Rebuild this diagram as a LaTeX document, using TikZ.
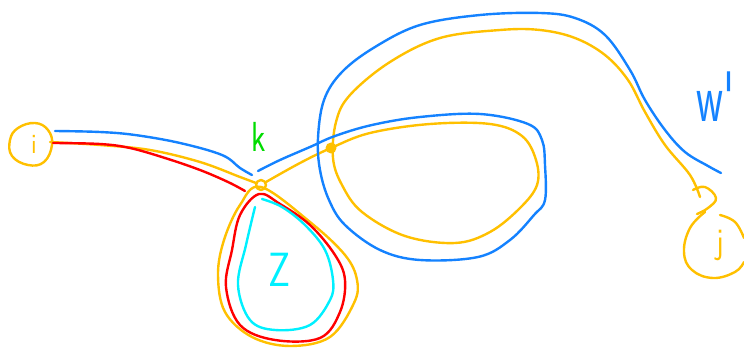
\documentclass[tikz,border=0pt]{standalone}
\definecolor{gold}{RGB}{255,192,0}
\definecolor{skyb}{RGB}{20,130,255}
\definecolor{redl}{RGB}{255,0,0}
\definecolor{cyanl}{RGB}{0,240,255}
\definecolor{greenl}{RGB}{0,220,0}
\begin{document}
\begin{tikzpicture}[x=1pt,y=-1pt,
  stroke/.style={line width=2.4pt, line cap=round, line join=round},
  lbl/.style={inner sep=0pt}]
\useasboundingbox (0,0) rectangle (744,350);
% vertex circles
\draw[stroke, gold] plot[smooth cycle, tension=0.7] coordinates {(18,128) (35,123) (48,130) (52,145) (44,162) (28,165) (12,156) (10,140)};
\node[lbl, text=gold, font=\sffamily\fontsize{28}{28}\selectfont, xscale=0.9] (i) at (34,144) {i};
\draw[stroke, gold] plot[smooth, tension=0.7] coordinates {(720,215) (735,222) (744,238)};
\draw[stroke, gold] plot[smooth, tension=0.7] coordinates {(705,212) (690,228) (684,252) (692,270) (713,278) (735,272) (744,262)};
\node[lbl, text=gold, font=\sffamily\fontsize{36}{36}\selectfont, xscale=0.85] (j) at (720,245) {j};
\draw[stroke, gold] (261,185) circle[radius=5];
\fill[gold] (331,148) circle[radius=5.5];
% labels
\node[lbl, text=greenl, font=\sffamily\fontsize{42}{42}\selectfont, xscale=0.75] (k) at (259,137) {k};
\node[lbl, text=cyanl, font=\sffamily\fontsize{48}{48}\selectfont, xscale=0.8] (z) at (280,270) {Z};
\node[lbl, text=skyb, font=\sffamily\fontsize{70}{70}\selectfont, xscale=0.6, anchor=base west] (w) at (696,122) {w\textquotesingle};
% orange paths
\draw[stroke, gold] plot[smooth, tension=0.6] coordinates {(50,142) (100,145) (150,150) (200,162) (240,177) (256,183)};
\draw[stroke, gold] plot[smooth, tension=0.6] coordinates {(266,182) (300,163) (331,148) (370,133) (430,124) (490,124) (522,136) (536,160) (537,185) (520,208) (490,232) (455,243) (405,236) (362,212) (342,185) (333,158) (336,122) (350,95) (390,62) (440,38) (500,30) (540,30) (575,38) (605,55) (628,80) (645,112) (665,145) (690,175) (700,197)};
\draw[stroke, gold] plot[smooth, tension=0.7] coordinates {(693,190) (705,187) (716,198) (708,208) (697,214)};
\draw[stroke, gold] plot[smooth cycle, tension=0.6] coordinates {(261,187) (240,205) (224,240) (218,275) (225,312) (252,337) (290,346) (330,337) (354,303) (357,280) (345,255) (310,222)};
% red
\draw[stroke, redl] plot[smooth, tension=0.6] coordinates {(53,143) (100,144) (130,148) (165,158) (200,170) (228,182) (245,191)};
\draw[stroke, redl] plot[smooth cycle, tension=0.6] coordinates {(259,194) (240,215) (232,250) (226,287) (240,325) (275,340) (320,338) (340,312) (345,280) (335,255) (310,225) (280,204)};
% cyan
\draw[stroke, cyanl] plot[smooth, tension=0.6] coordinates {(255,207) (246,245) (238,285) (250,320) (275,330) (310,325) (330,300) (333,280) (325,250) (305,225) (282,207) (262,199)};
% blue
\draw[stroke, skyb] plot[smooth, tension=0.6] coordinates {(55,131) (100,132) (135,135) (180,143) (222,155) (240,168) (252,175)};
\draw[stroke, skyb] plot[smooth, tension=0.6] coordinates {(258,171) (280,160) (310,147) (335,136) (372,125) (420,117) (480,114) (528,124) (542,140) (545,165) (545,200) (534,215) (510,240) (478,257) (420,260) (380,250) (345,225) (329,200) (320,170) (318,138) (324,100) (342,72) (375,47) (420,25) (480,15) (540,13) (575,18) (605,35) (630,70) (645,100) (665,130) (685,152) (708,166) (721,173)};
\end{tikzpicture}
\end{document}
